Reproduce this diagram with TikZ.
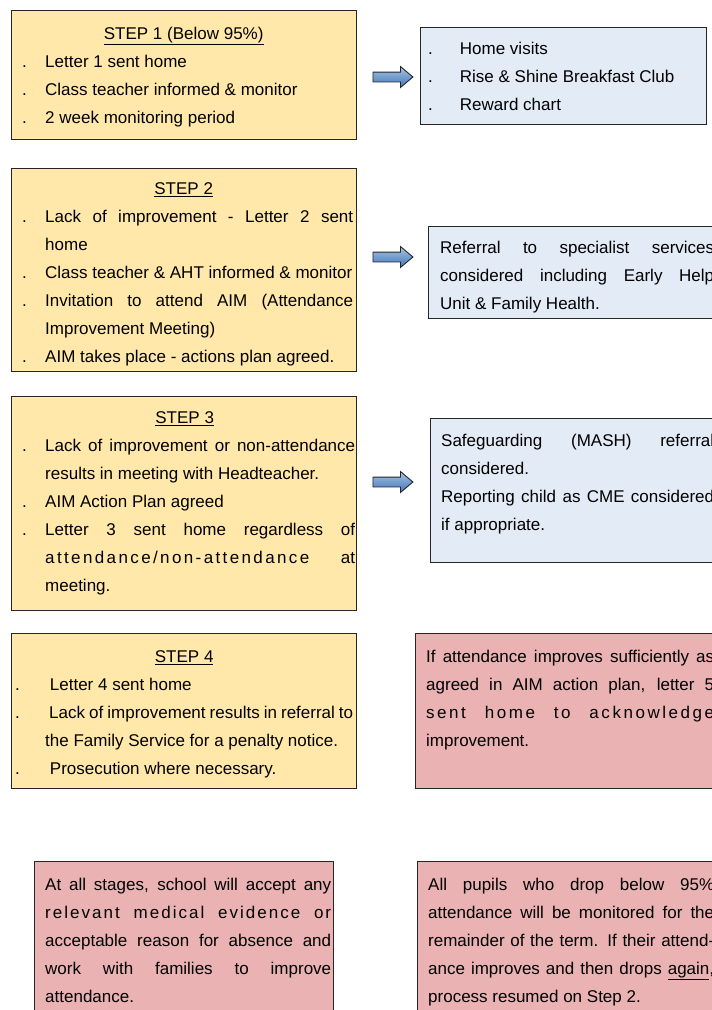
\documentclass[tikz,border=0pt]{standalone}
\usepackage{fontspec}
\setmainfont{Liberation Sans}
\usetikzlibrary{shapes.arrows}
\definecolor{stepyellow}{HTML}{FFE8A9}
\definecolor{infoblue}{HTML}{E3EBF6}
\definecolor{notepink}{HTML}{EAB2B3}
\definecolor{arrowblue}{HTML}{3F78BC}
\newcommand\txtsetup{\fontsize{17}{28}\selectfont
  \hyphenpenalty=10000 \exhyphenpenalty=10000 \tolerance=10000 \relax}
\newcommand\stephead[1]{\noindent\hspace*{-4pt}\makebox[\linewidth]{\strut\underline{#1}}\par}
\newcommand\stepitem[1][23pt]{\par\hangindent=#1\hangafter=1\noindent\makebox[#1][l]{\strut.}}
\tikzset{
 box/.style={draw=black!85, line width=1.2pt, anchor=north west, inner sep=0pt},
 stepbox/.style={box, fill=stepyellow},
 infobox/.style={box, fill=infoblue},
 notebox/.style={box, fill=notepink},
 txt/.style={anchor=north west, inner sep=0pt, align=justify, font=\txtsetup},
 go/.style={single arrow, draw=black!85, line width=0.9pt, inner sep=4.5pt,
  minimum height=40pt, single arrow head extend=5.5pt, single arrow tip angle=80,
  top color=arrowblue!45!white, bottom color=arrowblue},
}
\begin{document}
\begin{tikzpicture}[x=1pt, y=-1pt]
    \useasboundingbox (0,0) rectangle (712,1010);
    \clip (0,0) rectangle (712,1010);

    % the four steps
    \node[stepbox, minimum width=345pt, minimum height=129pt] (step1) at (11,10) {};
    \node[stepbox, minimum width=345pt, minimum height=203pt] (step2) at (11,168) {};
    \node[stepbox, minimum width=345pt, minimum height=214pt] (step3) at (11,396) {};
    \node[stepbox, minimum width=345pt, minimum height=155pt] (step4) at (11,633) {};

    \node[txt, text width=331pt] (step1txt) at (22,19.5) {%
        \stephead{STEP 1 (Below 95\%)}%
        \stepitem Letter 1 sent home
        \stepitem Class teacher informed \& monitor
        \stepitem 2 week monitoring period\par};
    \node[txt, text width=331pt] (step2txt) at (22,174.5) {%
        \stephead{STEP 2}%
        \stepitem Lack of improvement - Letter 2 sent\linebreak home
        \stepitem Class teacher \& AHT informed \& monitor
        \stepitem Invitation to attend AIM (Attendance\linebreak Improvement Meeting)
        \stepitem AIM takes place - actions plan agreed.\par};
    \node[txt, text width=333pt] (step3txt) at (22,403.5) {%
        \stephead{STEP 3}%
        \stepitem Lack of improvement or non-attendance\linebreak results in meeting with Headteacher.
        \stepitem AIM Action Plan agreed
        \stepitem Letter 3 sent home regardless of\linebreak
            {\addfontfeature{LetterSpace=14}attendance/non-attendance} at\linebreak meeting.\par};
    \node[txt, text width=338pt] (step4txt) at (15,642.5) {%
        \hspace*{4pt}\stephead{STEP 4}%
        \stepitem[30pt] Letter 4 sent home
        \stepitem[30pt] Lack of improvement results in referral to\linebreak the Family Service for a penalty notice.
        \stepitem[30pt] Prosecution where necessary.\par};

    % what is done alongside
    \node[infobox, minimum width=286pt, minimum height=97pt] (info1) at (420,27) {};
    \node[infobox, minimum width=300pt, minimum height=92pt] (info2) at (428,226) {};
    \node[infobox, minimum width=300pt, minimum height=144pt] (info3) at (430,418) {};
    \node[notebox, minimum width=310pt, minimum height=155pt] (note1) at (415,633) {};

    \node[txt, text width=270pt] (info1txt) at (428,26) {%
        \stepitem[27pt] Home visits
        \stepitem[27pt] Rise \& Shine Breakfast Club
        \stepitem[27pt] Reward chart\par};
    \node[txt, text width=274pt] (info2txt) at (440,233.5) {%
        \strut Referral to specialist services\linebreak considered including Early Help\linebreak
        Unit \& Family Health.\par};
    \node[txt, text width=273pt] (info3txt) at (441,426.5) {%
        \strut Safeguarding (MASH) referral\linebreak considered.\par
        \strut Reporting child as CME considered\linebreak if appropriate.\par};
    \node[txt, text width=288pt] (note1txt) at (426,642.5) {%
        \strut If attendance improves sufficiently as\linebreak agreed in AIM action plan, letter 5\linebreak
        {\addfontfeature{LetterSpace=15}sent home to acknowledge}\linebreak improvement.\par};

    \foreach \y[count=\i] in {77,257,482} {
        \node[go] (go\i) at (390,\y) {};
    }

    % notes at the bottom
    \node[notebox, minimum width=299pt, minimum height=170pt] (note2) at (34,861) {};
    \node[notebox, minimum width=310pt, minimum height=170pt] (note3) at (417,861) {};

    \node[txt, text width=286pt] (note2txt) at (45,870.5) {%
        \strut At all stages, school will accept any\linebreak
        {\addfontfeature{LetterSpace=12}relevant medical evidence or}\linebreak
        acceptable reason for absence and\linebreak work with families to improve\linebreak attendance.\par};
    \node[txt, text width=286pt] (note3txt) at (428,870.5) {%
        \strut All pupils who drop below 95\%\linebreak attendance will be monitored for the\linebreak
        remainder of the term. If their attend-\linebreak ance improves and then drops \underline{again},\linebreak
        process resumed on Step 2.\par};
\end{tikzpicture}
\end{document}
